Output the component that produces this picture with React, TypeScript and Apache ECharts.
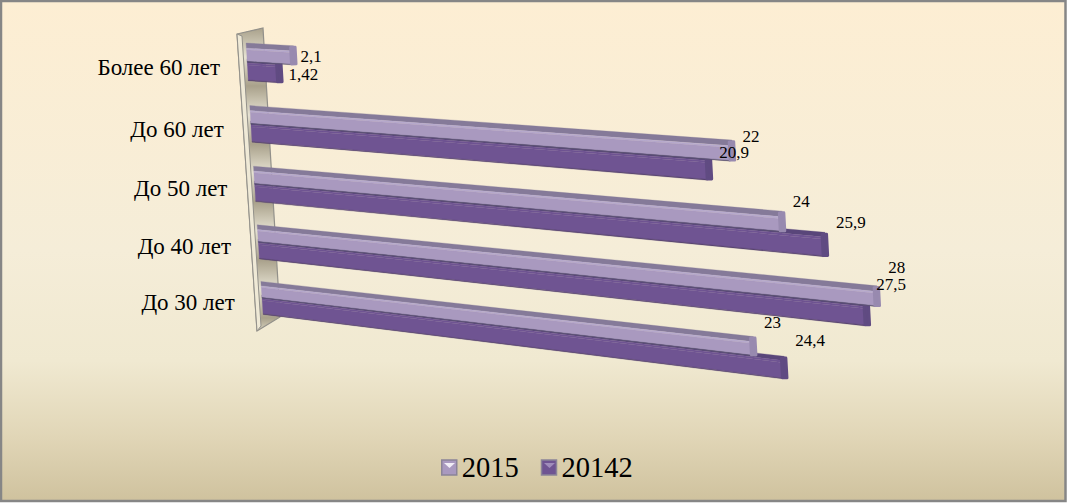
import React, { useEffect, useRef } from "react";
import * as echarts from "echarts";

const categories = ["До 30 лет", "До 40 лет", "До 50 лет", "До 60 лет", "Более 60 лет"];
const seriesNames = ["2015", "20142"];
const values2015 = [23, 28, 24, 22, 2.1];
const values2014 = [24.4, 27.5, 25.9, 20.9, 1.42];

const SERIF = '"Liberation Serif", "Times New Roman", serif';
// perspective of the sloped 3D scene
const rowScale = [0.967, 1, 0.995, 0.99, 1];
const labelLift = [1.13, 1.1, 0.85, 0.73, 0.73];

const palettes = [
  { top: "#857a99", hi: "#b7aacd", main: "#a999bf", edge: "#5a5070", side: "#988aaf" },
  { top: "#59467a", hi: "#6f5492", main: "#6f5492", edge: "#57436f", side: "#604b82" },
];

function makeProjector(api: any) {
  const origin = api.coord([0, 0]);
  const band = api.size([0, 1])[1];
  const L = origin[0];
  const Y0 = origin[1];
  const h = band * 0.3;
  return {
    band,
    L,
    at(row: number, value: number, offset: number, extraX = 0) {
      const p = api.coord([value * rowScale[row], row]);
      const gy = p[1] + offset;
      const r = (Y0 - gy) / band;
      const dx = p[0] - L + extraX;
      const t = Math.max(-1, Math.min(1, offset / h));
      return [L + dx - 3.7 * r, gy + r * (4 - r) + dx * (0.118 - 0.0135 * row + 0.006 * t)];
    },
  };
}

function strip(P: any, row: number, v: number, a: number, b: number, endX: number, fill: string, startX = 0) {
  return {
    type: "polygon",
    shape: {
      points: [
        P.at(row, 0, a, startX),
        P.at(row, v, a, endX),
        P.at(row, v, b, endX),
        P.at(row, 0, b, startX),
      ],
    },
    style: { fill, stroke: fill, lineWidth: 0.3 },
  };
}

function barRenderer(s: number) {
  const c = palettes[s];
  return (_: any, api: any) => {
    const v = api.value(0);
    const row = api.value(1);
    const P = makeProjector(api);
    const h = P.band * 0.3;
    // the later series starts a little behind the front one, so only the
    // end of its top face shows past a shorter neighbour
    const a = s === 0 ? -h : -3;
    const span = s === 0 ? h : h + 3;
    const off = (t: number) => a + t * span;
    const body = s === 0 ? 0.27 : 0.19;
    const P1 = P.at(row, v, off(0.07), 2.5);
    const P2 = P.at(row, v, off(0.93), 2.5);
    const P3 = P.at(row, v, off(0.95), -2);
    const P4 = P.at(row, v, off(0.1), -2);
    return {
      type: "group",
      children: [
        strip(P, row, v, off(0), off(body), 1, c.top),
        strip(P, row, v, off(body), off(body + 0.09), -2, c.hi),
        strip(P, row, v, off(body + 0.09), off(0.97), -2, c.main),
        strip(P, row, v, off(0.965), off(1), -2, c.edge),
        {
          type: "polygon",
          shape: { points: [P1, P2, P3, P4] },
          style: { fill: c.side, stroke: c.side, lineWidth: 3, lineJoin: "round" },
        },
      ],
    };
  };
}

function renderValueLabel(_: any, api: any) {
  const v = api.value(0);
  const row = api.value(1);
  const s = api.value(2);
  const P = makeProjector(api);
  const h = P.band * 0.3;
  const mid = P.at(row, v, s === 0 ? -h / 2 : h / 2, 3);
  const drop = row === 1 ? (s === 1 ? 3 : 0) : s === 1 && row < 4 ? 4 : row === 2 ? 2 : 0;
  return {
    type: "text",
    x: mid[0] + 4 + 0.17 * v + (row === 4 && s === 1 ? 2 : 0) - (row === 1 && s === 1 ? 2 : 0),
    y: mid[1] + 2 - v * labelLift[row] - drop,
    style: {
      text: String(v).replace(".", ","),
      font: `17px ${SERIF}`,
      fill: "#000",
      align: "left",
      verticalAlign: "middle",
    },
  };
}

function renderCategory(_: any, api: any) {
  const row = api.value(0);
  const P = makeProjector(api);
  const p = P.at(row, 0, 5);
  return {
    type: "text",
    x: p[0] - 27.5,
    y: p[1],
    style: {
      text: categories[row],
      font: `23px ${SERIF}`,
      fill: "#000",
      align: "right",
      verticalAlign: "middle",
    },
  };
}

export default function App() {
  const ref = useRef<HTMLDivElement>(null);
  useEffect(() => {
    document.body.style.margin = "0";
    const chart = echarts.init(ref.current!, undefined, { renderer: "svg" });
    const G = echarts.graphic.LinearGradient;
    const stops: any[] = [];
    const wallH = 303;
    for (let i = 0; i <= 10; i++) {
      const y = (i * 29) / wallH;
      if (y <= 1) stops.push({ offset: y, color: i % 2 === 0 ? "#a9a18b" : "#e6e2d2" });
    }
    stops.push({ offset: 1, color: "#d8d3c0" });
    chart.setOption({
      animation: false,
      graphic: [
        {
          type: "rect",
          z: 0,
          shape: { x: 1, y: 1, width: 1064.5, height: 500 },
          style: {
            fill: new G(0, 0, 0, 1, [
              { offset: 0, color: "#fdeed3" },
              { offset: 0.5, color: "#f5edd8" },
              { offset: 0.72, color: "#f0e9d1" },
              { offset: 0.87, color: "#e1d6b7" },
              { offset: 1, color: "#cfc29e" },
            ]),
            stroke: "#868686",
            lineWidth: 2.5,
          },
        },
        {
          type: "polygon",
          z: 1,
          shape: { points: [[237, 34], [263, 28], [280, 317], [257, 331]] },
          style: { fill: new G(0, 0, 0, 1, stops), stroke: "#92908a", lineWidth: 1.2 },
        },
        {
          type: "polygon",
          z: 1,
          shape: { points: [[237, 34], [242, 36], [261, 326], [257, 331]] },
          style: { fill: "#efe9d6", stroke: "#92908a", lineWidth: 1 },
        },
        {
          type: "polygon",
          z: 20,
          shape: { points: [[444, 463], [455, 463], [449.5, 468]] },
          style: { fill: "#f1edf6" },
        },
        {
          type: "polygon",
          z: 20,
          shape: { points: [[544, 463], [555, 463], [549.5, 468]] },
          style: { fill: "#a08dbb" },
        },
      ],
      legend: {
        left: 441,
        top: 453,
        padding: 0,
        selectedMode: false,
        itemWidth: 15,
        itemHeight: 15,
        itemGap: 22,
        data: seriesNames.map((name) => ({ name, icon: "rect" })),
        itemStyle: { borderColor: "#8b8498", borderWidth: 1.5 },
        textStyle: { fontFamily: SERIF, fontSize: 28.5, color: "#000" },
      },
      grid: { left: 262, width: 663, top: 32.5, height: 295 },
      xAxis: { type: "value", min: 0, max: 30, show: false },
      yAxis: { type: "category", data: categories, show: false },
      series: [
        {
          type: "custom",
          name: seriesNames[1],
          z: 2,
          clip: false,
          itemStyle: { color: "#6f5492" },
          renderItem: barRenderer(1),
          data: values2014.map((v, i) => [v, i]),
        },
        {
          type: "custom",
          name: seriesNames[0],
          z: 3,
          clip: false,
          itemStyle: { color: "#a999bf" },
          renderItem: barRenderer(0),
          data: values2015.map((v, i) => [v, i]),
        },
        {
          type: "custom",
          name: "values",
          z: 5,
          clip: false,
          silent: true,
          renderItem: renderValueLabel,
          data: [
            ...values2014.map((v, i) => [v, i, 1]),
            ...values2015.map((v, i) => [v, i, 0]),
          ],
        },
        {
          type: "custom",
          name: "categories",
          z: 5,
          clip: false,
          silent: true,
          renderItem: renderCategory,
          encode: { y: 0 },
          data: categories.map((_, i) => [i]),
        },
      ],
    });
    return () => chart.dispose();
  }, []);
  return <div ref={ref} style={{ width: 1067, height: 504 }} />;
}
